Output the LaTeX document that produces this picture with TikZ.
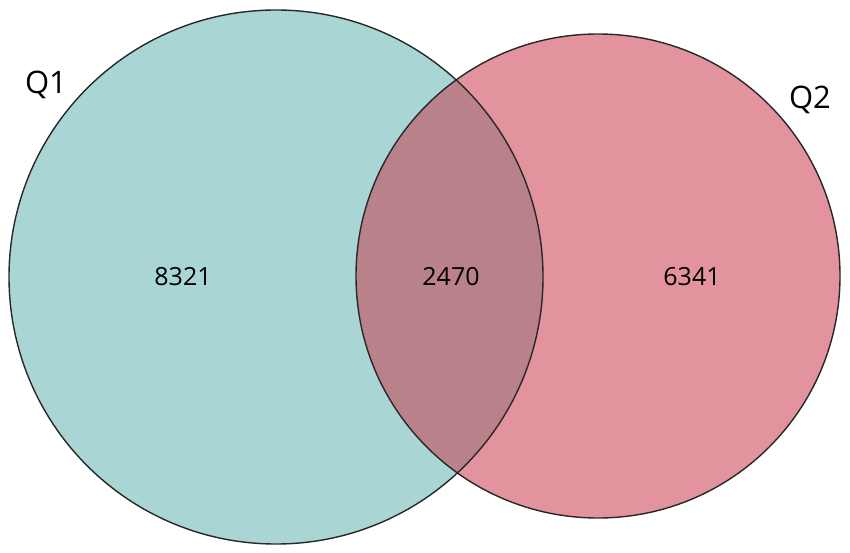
\documentclass[tikz,border=0pt]{standalone}
\usepackage{fontspec}
\setmainfont{Open Sans}
\definecolor{tealfill}{RGB}{169,214,212}
\definecolor{pinkfill}{RGB}{227,147,157}
\definecolor{overlapfill}{RGB}{185,129,137}
\definecolor{edge}{RGB}{40,40,40}
\begin{document}
\begin{tikzpicture}[x=1pt,y=-1pt,
  setlabel/.style={font=\fontsize{31}{36}\selectfont, text=black},
  countlabel/.style={font=\fontsize{25}{30}\selectfont, text=black},
  ring/.style={draw=edge, line width=1.4pt}]
\useasboundingbox (0,0) rectangle (850,553);
\coordinate (c1) at (276,277);
\coordinate (c2) at (598,276);
\fill[tealfill] (c1) circle[radius=267];
\fill[pinkfill] (c2) circle[radius=242];
\begin{scope}
  \clip (c1) circle[radius=267];
  \fill[overlapfill] (c2) circle[radius=242];
\end{scope}
\draw[ring] (c1) circle[radius=267];
\draw[ring] (c2) circle[radius=242];
\node[setlabel] (q1) at (46,85) {Q1};
\node[setlabel] (q2) at (810,100) {Q2};
\node[countlabel] (n1) at (183,277) {8321};
\node[countlabel] (n12) at (451,277) {2470};
\node[countlabel] (n2) at (692,277) {6341};
\end{tikzpicture}
\end{document}
